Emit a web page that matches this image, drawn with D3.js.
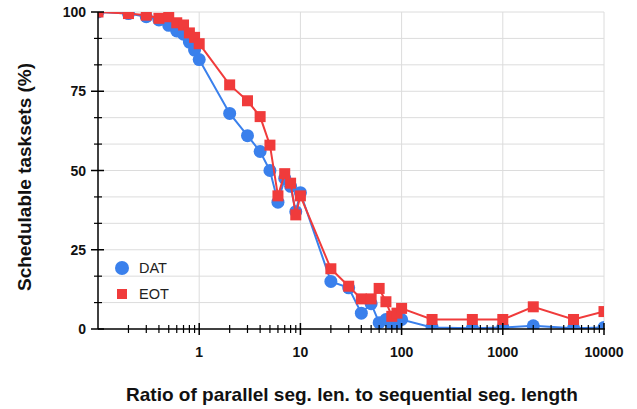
<!DOCTYPE html>
<html>
<head>
<meta charset="utf-8">
<script src="https://cdn.jsdelivr.net/npm/d3@7"></script>
<style>
  body { margin: 0; background: #fff; }
  svg { display: block; font-family: "Liberation Sans", Arial, sans-serif; }
</style>
</head>
<body>
<svg id="canvas" width="637" height="409"></svg>
<script>
// Data
let ratios = [0.1, 0.2, 0.3, 0.4, 0.5, 0.6, 0.7, 0.8, 0.9, 1, 2, 3, 4, 5, 6, 7, 8, 9, 10,
    20, 30, 40, 50, 60, 70, 80, 90, 100, 200, 500, 1000, 2000, 5000, 10000];
let datValues = [100, 99.5, 98.5, 97.5, 95.8, 94, 93, 90.5, 88, 85, 68, 61, 56, 50, 40, 47.5, 45, 37, 43,
    15, 13, 5, 8, 2, 3, 1.5, 2, 3, 0.5, 0.2, 0.5, 1, 0.2, 0.5];
let eotValues = [100, 99.5, 99, 98, 98.5, 96.6, 95.9, 93.4, 92, 90, 77, 72, 67, 58, 42, 49, 46, 36, 42,
    19, 13.5, 9.5, 9.5, 12.8, 8.6, 4, 5, 6.5, 3, 3, 3, 7, 3, 5.5];
let xTickLabels = [1, 10, 100, 1000, 10000];
let yTickLabels = [0, 25, 50, 75, 100];

let series = [
    { name: 'DAT', values: datValues, color: '#3a80ec', shape: 'circle' },
    { name: 'EOT', values: eotValues, color: '#f03b3b', shape: 'square' }
];

let canvas = d3.select('#canvas');
let plotLeft = 98, plotRight = 604, plotTop = 12, plotBottom = 329;

let x = d3.scaleLog().domain([0.1, 10000]).range([plotLeft, plotRight]);
let y = d3.scaleLinear().domain([0, 100]).range([plotBottom, plotTop]);

// Gridlines
let yGrid = d3.range(0, 100.01, 25 / 3);
canvas.append('g').selectAll('line')
    .data(yGrid.filter((d) => d > 0))
    .enter().append('line')
    .attr('x1', plotLeft).attr('x2', plotRight)
    .attr('y1', (d) => y(d)).attr('y2', (d) => y(d))
    .attr('stroke', '#dcdcdc').attr('stroke-width', 1);

canvas.append('g').selectAll('line')
    .data(xTickLabels)
    .enter().append('line')
    .attr('x1', (d) => x(d)).attr('x2', (d) => x(d))
    .attr('y1', plotTop).attr('y2', plotBottom)
    .attr('stroke', '#dcdcdc').attr('stroke-width', 1);

// Clip area for series
canvas.append('clipPath').attr('id', 'plot-clip')
    .append('rect')
    .attr('x', plotLeft).attr('y', plotTop)
    .attr('width', plotRight - plotLeft).attr('height', plotBottom - plotTop);

let plot = canvas.append('g').attr('clip-path', 'url(#plot-clip)');

let line = d3.line()
    .x((d, i) => x(ratios[i]))
    .y((d) => y(d));

series.forEach((s) => {
    let g = plot.append('g');
    g.append('path')
        .attr('d', line(s.values))
        .attr('fill', 'none')
        .attr('stroke', s.color)
        .attr('stroke-width', 2);
    if (s.shape === 'circle') {
        g.selectAll('circle')
            .data(s.values)
            .enter().append('circle')
            .attr('cx', (d, i) => x(ratios[i]))
            .attr('cy', (d) => y(d))
            .attr('r', 6.5)
            .attr('fill', s.color);
    } else {
        g.selectAll('rect')
            .data(s.values)
            .enter().append('rect')
            .attr('x', (d, i) => x(ratios[i]) - 5.5)
            .attr('y', (d) => y(d) - 5.5)
            .attr('width', 11).attr('height', 11)
            .attr('fill', s.color);
    }
});

// Axes
let xMinor = [];
for (let p = -1; p < 4; p++) {
    for (let m = 2; m <= 9; m++) xMinor.push(m * Math.pow(10, p));
}
let xAxisG = canvas.append('g');
xAxisG.append('line')
    .attr('x1', plotLeft).attr('x2', plotRight + 1)
    .attr('y1', plotBottom).attr('y2', plotBottom)
    .attr('stroke', '#000').attr('stroke-width', 1.5);
xAxisG.selectAll('.minor')
    .data(xMinor)
    .enter().append('line')
    .attr('x1', (d) => x(d)).attr('x2', (d) => x(d))
    .attr('y1', plotBottom - 4).attr('y2', plotBottom + 4)
    .attr('stroke', '#000').attr('stroke-width', 1.2);
xAxisG.selectAll('.major')
    .data(xTickLabels)
    .enter().append('line')
    .attr('x1', (d) => x(d)).attr('x2', (d) => x(d))
    .attr('y1', plotBottom - 6).attr('y2', plotBottom + 6)
    .attr('stroke', '#000').attr('stroke-width', 1.5);
xAxisG.selectAll('text')
    .data(xTickLabels)
    .enter().append('text')
    .attr('x', (d) => x(d))
    .attr('y', plotBottom + 28)
    .attr('text-anchor', 'middle')
    .attr('font-size', 14)
    .attr('font-weight', 'bold')
    .attr('fill', '#111')
    .text((d) => d);

let yAxisG = canvas.append('g');
yAxisG.append('line')
    .attr('x1', plotLeft).attr('x2', plotLeft)
    .attr('y1', plotTop).attr('y2', plotBottom)
    .attr('stroke', '#000').attr('stroke-width', 1.5);
yAxisG.selectAll('.minor')
    .data(yGrid.filter((d, i) => i % 3 !== 0))
    .enter().append('line')
    .attr('x1', plotLeft - 4).attr('x2', plotLeft + 4)
    .attr('y1', (d) => y(d)).attr('y2', (d) => y(d))
    .attr('stroke', '#000').attr('stroke-width', 1.2);
yAxisG.selectAll('.major')
    .data(yTickLabels)
    .enter().append('line')
    .attr('x1', plotLeft - 7).attr('x2', plotLeft + 6)
    .attr('y1', (d) => y(d)).attr('y2', (d) => y(d))
    .attr('stroke', '#000').attr('stroke-width', 1.5);
yAxisG.selectAll('text')
    .data(yTickLabels)
    .enter().append('text')
    .attr('x', plotLeft - 12)
    .attr('y', (d) => y(d) + 5)
    .attr('text-anchor', 'end')
    .attr('font-size', 14)
    .attr('font-weight', 'bold')
    .attr('fill', '#111')
    .text((d) => d);

// Axis titles
canvas.append('text')
    .attr('transform', 'translate(31,177) rotate(-90)')
    .attr('text-anchor', 'middle')
    .attr('font-size', 19)
    .attr('font-weight', 'bold')
    .attr('fill', '#111')
    .text('Schedulable tasksets (%)');

canvas.append('text')
    .attr('x', 352)
    .attr('y', 401)
    .attr('text-anchor', 'middle')
    .attr('font-size', 19)
    .attr('font-weight', 'bold')
    .attr('fill', '#111')
    .text('Ratio of parallel seg. len. to sequential seg. length');

// Legend
let legend = canvas.append('g');
legend.append('circle')
    .attr('cx', 122).attr('cy', 268).attr('r', 7)
    .attr('fill', series[0].color);
legend.append('rect')
    .attr('x', 117).attr('y', 289).attr('width', 10).attr('height', 10)
    .attr('fill', series[1].color);
legend.selectAll('text')
    .data(series)
    .enter().append('text')
    .attr('x', 139)
    .attr('y', (d, i) => 273 + i * 26)
    .attr('font-size', 14.5)
    .attr('fill', '#222')
    .text((d) => d.name);
</script>
</body>
</html>
